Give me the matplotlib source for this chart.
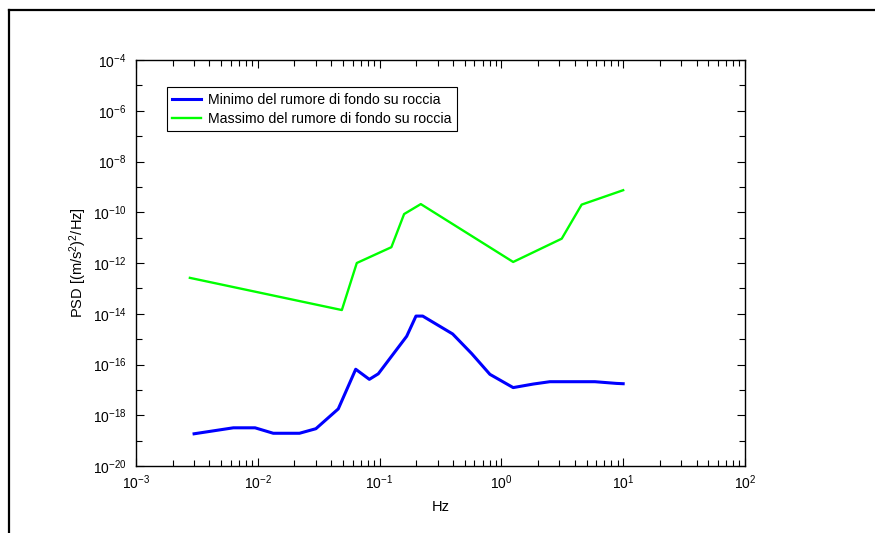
import matplotlib
matplotlib.use('Agg')
import matplotlib.pyplot as plt
from matplotlib.lines import Line2D
from matplotlib.ticker import NullFormatter

plt.rcParams['font.family'] = ['Liberation Sans', 'DejaVu Sans']
plt.rcParams['mathtext.fontset'] = 'custom'
plt.rcParams['mathtext.rm'] = 'Liberation Sans'
plt.rcParams['mathtext.default'] = 'regular'
plt.rcParams['axes.unicode_minus'] = False

# minimum rock background noise
f_min = [0.003, 0.0063, 0.0095, 0.0134, 0.022, 0.030, 0.0458, 0.0637, 0.0824,
         0.0976, 0.167, 0.199, 0.226, 0.398, 0.57, 0.805, 1.25, 1.83, 2.5,
         5.86, 8.8, 10.0]
psd_min = [1.86e-19, 3.2e-19, 3.2e-19, 1.95e-19, 1.95e-19, 2.95e-19, 1.78e-18,
           6.5e-17, 2.6e-17, 4.3e-17, 1.3e-15, 8.1e-15, 8.1e-15, 1.6e-15,
           2.7e-16, 4.1e-17, 1.23e-17, 1.7e-17, 2.1e-17, 2.1e-17, 1.8e-17,
           1.75e-17]

# maximum rock background noise
f_max = [0.00277, 0.049, 0.065, 0.125, 0.159, 0.218, 1.25, 3.13, 4.56, 10.0]
psd_max = [2.6e-13, 1.4e-14, 1.0e-12, 4.2e-12, 8.5e-11, 2.1e-10, 1.1e-12,
           9.1e-12, 2.0e-10, 7.4e-10]

labels = ['Minimo del rumore di fondo su roccia',
          'Massimo del rumore di fondo su roccia']

y_major = [1e-20, 1e-18, 1e-16, 1e-14, 1e-12, 1e-10, 1e-8, 1e-6, 1e-4]
y_minor = [1e-19, 1e-17, 1e-15, 1e-13, 1e-11, 1e-9, 1e-7, 1e-5]

fig = plt.figure(figsize=(8.75, 5.33), dpi=100)
ax = fig.add_axes([0.1554, 0.1257, 0.696, 0.7617])

ax.plot(f_min, psd_min, color='#0000ff', lw=2.2, label=labels[0])
ax.plot(f_max, psd_max, color='#00ff00', lw=1.7, label=labels[1])

ax.set_xscale('log')
ax.set_yscale('log')
ax.set_xlim(1e-3, 1e2)
ax.set_ylim(1e-20, 1e-4)
ax.set_yticks(y_major)
ax.set_yticks(y_minor, minor=True)
ax.yaxis.set_minor_formatter(NullFormatter())
ax.xaxis.set_minor_formatter(NullFormatter())

ax.tick_params(which='both', direction='in', top=True, right=True,
               labelsize=10, width=0.8)
ax.tick_params(which='major', length=6)
ax.tick_params(which='minor', length=4)
ax.tick_params(axis='y', which='major', pad=7)
ax.tick_params(axis='x', which='major', pad=5)
for s in ax.spines.values():
    s.set_linewidth(1.0)

ax.set_xlabel('Hz', fontsize=10.5)
ax.set_ylabel('PSD [(m/s$^2$)$^2$/Hz]', fontsize=10.5)
ax.xaxis.set_label_coords(0.5, -0.083)
ax.yaxis.set_label_coords(-0.077, 0.5)

leg = ax.legend(loc='upper left', bbox_to_anchor=(0.0504, 0.9327),
                borderaxespad=0, fancybox=False, framealpha=1,
                edgecolor='black', fontsize=10.2, handlelength=2.0,
                handletextpad=0.5, labelspacing=0.33, borderpad=0.4)
leg.get_frame().set_linewidth(0.8)

# page border of the original export
fig.add_artist(Line2D([0.0103, 1.0], [0.9812, 0.9812], color='black', lw=1.6,
                      transform=fig.transFigure))
fig.add_artist(Line2D([0.0103, 0.0103], [0.0, 0.9812], color='black', lw=1.6,
                      transform=fig.transFigure))

fig.savefig('out.png', dpi=100)
